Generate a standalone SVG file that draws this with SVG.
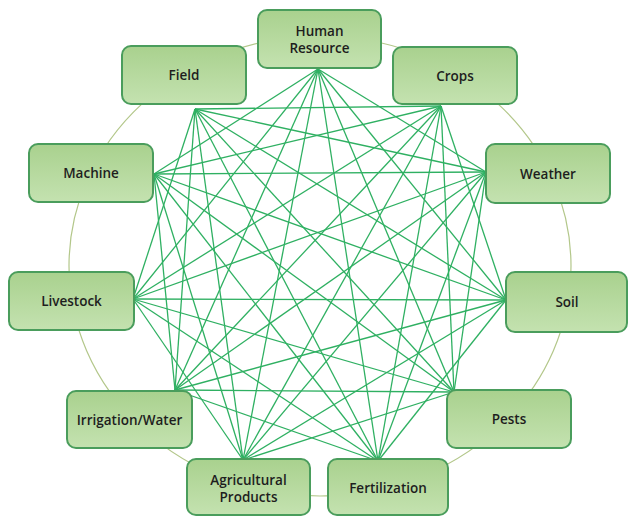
<svg xmlns="http://www.w3.org/2000/svg" width="628" height="519" viewBox="0 0 628 519">
<defs>
<linearGradient id="g" x1="0" y1="0" x2="0" y2="1">
<stop offset="0" stop-color="#a9d18e"/>
<stop offset="1" stop-color="#c4e2b0"/>
</linearGradient>
</defs>
<style>
.box{fill:url(#g);stroke:#4a9d5c;stroke-width:2}
.t{font-family:"Open Sans","Liberation Sans",sans-serif;font-size:13.5px;font-weight:600;fill:#1e1e1e;text-anchor:middle}
.c line{stroke:#2fb062;stroke-width:1.3}
.ring{fill:none;stroke:#b3c78a;stroke-width:1.2}
</style>
<rect width="628" height="519" fill="#ffffff"/>
<ellipse class="ring" cx="320" cy="266" rx="251" ry="230"/>
<g class="c" id="connectors">
<line x1="318" y1="69" x2="486" y2="172"/>
<line x1="318" y1="69" x2="506" y2="300"/>
<line x1="318" y1="69" x2="454" y2="392"/>
<line x1="318" y1="69" x2="378" y2="461"/>
<line x1="318" y1="69" x2="243" y2="460"/>
<line x1="318" y1="69" x2="175" y2="390"/>
<line x1="318" y1="69" x2="133" y2="299"/>
<line x1="318" y1="69" x2="154" y2="174"/>
<line x1="441" y1="106" x2="506" y2="300"/>
<line x1="441" y1="106" x2="454" y2="392"/>
<line x1="441" y1="106" x2="378" y2="461"/>
<line x1="441" y1="106" x2="243" y2="460"/>
<line x1="441" y1="106" x2="175" y2="390"/>
<line x1="441" y1="106" x2="133" y2="299"/>
<line x1="441" y1="106" x2="154" y2="174"/>
<line x1="441" y1="106" x2="195" y2="109"/>
<line x1="486" y1="172" x2="454" y2="392"/>
<line x1="486" y1="172" x2="378" y2="461"/>
<line x1="486" y1="172" x2="243" y2="460"/>
<line x1="486" y1="172" x2="175" y2="390"/>
<line x1="486" y1="172" x2="133" y2="299"/>
<line x1="486" y1="172" x2="154" y2="174"/>
<line x1="486" y1="172" x2="195" y2="109"/>
<line x1="506" y1="300" x2="378" y2="461"/>
<line x1="506" y1="300" x2="243" y2="460"/>
<line x1="506" y1="300" x2="175" y2="390"/>
<line x1="506" y1="300" x2="133" y2="299"/>
<line x1="506" y1="300" x2="154" y2="174"/>
<line x1="506" y1="300" x2="195" y2="109"/>
<line x1="454" y1="392" x2="243" y2="460"/>
<line x1="454" y1="392" x2="175" y2="390"/>
<line x1="454" y1="392" x2="133" y2="299"/>
<line x1="454" y1="392" x2="154" y2="174"/>
<line x1="454" y1="392" x2="195" y2="109"/>
<line x1="378" y1="461" x2="175" y2="390"/>
<line x1="378" y1="461" x2="133" y2="299"/>
<line x1="378" y1="461" x2="154" y2="174"/>
<line x1="378" y1="461" x2="195" y2="109"/>
<line x1="243" y1="460" x2="133" y2="299"/>
<line x1="243" y1="460" x2="154" y2="174"/>
<line x1="243" y1="460" x2="195" y2="109"/>
<line x1="175" y1="390" x2="154" y2="174"/>
<line x1="175" y1="390" x2="195" y2="109"/>
<line x1="133" y1="299" x2="195" y2="109"/>
</g>
<g id="human-resource"><rect class="box" x="258" y="10" width="123" height="58" rx="9"/><text class="t" x="319.5" y="36">Human</text><text class="t" x="319.5" y="53">Resource</text></g>
<g id="field"><rect class="box" x="122" y="46" width="124" height="58" rx="9"/><text class="t" x="184" y="80">Field</text></g>
<g id="crops"><rect class="box" x="393" y="47" width="124" height="57" rx="9"/><text class="t" x="455" y="80.5">Crops</text></g>
<g id="machine"><rect class="box" x="29" y="144" width="124" height="58" rx="9"/><text class="t" x="91" y="178">Machine</text></g>
<g id="weather"><rect class="box" x="486" y="144" width="124" height="59" rx="9"/><text class="t" x="548" y="178.5">Weather</text></g>
<g id="livestock"><rect class="box" x="9" y="272" width="125" height="58" rx="9"/><text class="t" x="71.5" y="305.5">Livestock</text></g>
<g id="soil"><rect class="box" x="506" y="272" width="121" height="60" rx="9"/><text class="t" x="567" y="307">Soil</text></g>
<g id="irrigation-water"><rect class="box" x="67" y="391" width="125" height="57" rx="9"/><text class="t" x="129.5" y="424.5">Irrigation/Water</text></g>
<g id="pests"><rect class="box" x="447" y="390" width="124" height="58" rx="9"/><text class="t" x="509" y="424">Pests</text></g>
<g id="agricultural-products"><rect class="box" x="187" y="459" width="123" height="56" rx="9"/><text class="t" x="248.5" y="485">Agricultural</text><text class="t" x="248.5" y="502">Products</text></g>
<g id="fertilization"><rect class="box" x="328" y="459" width="120" height="56" rx="9"/><text class="t" x="388" y="492.5">Fertilization</text></g>
</svg>
